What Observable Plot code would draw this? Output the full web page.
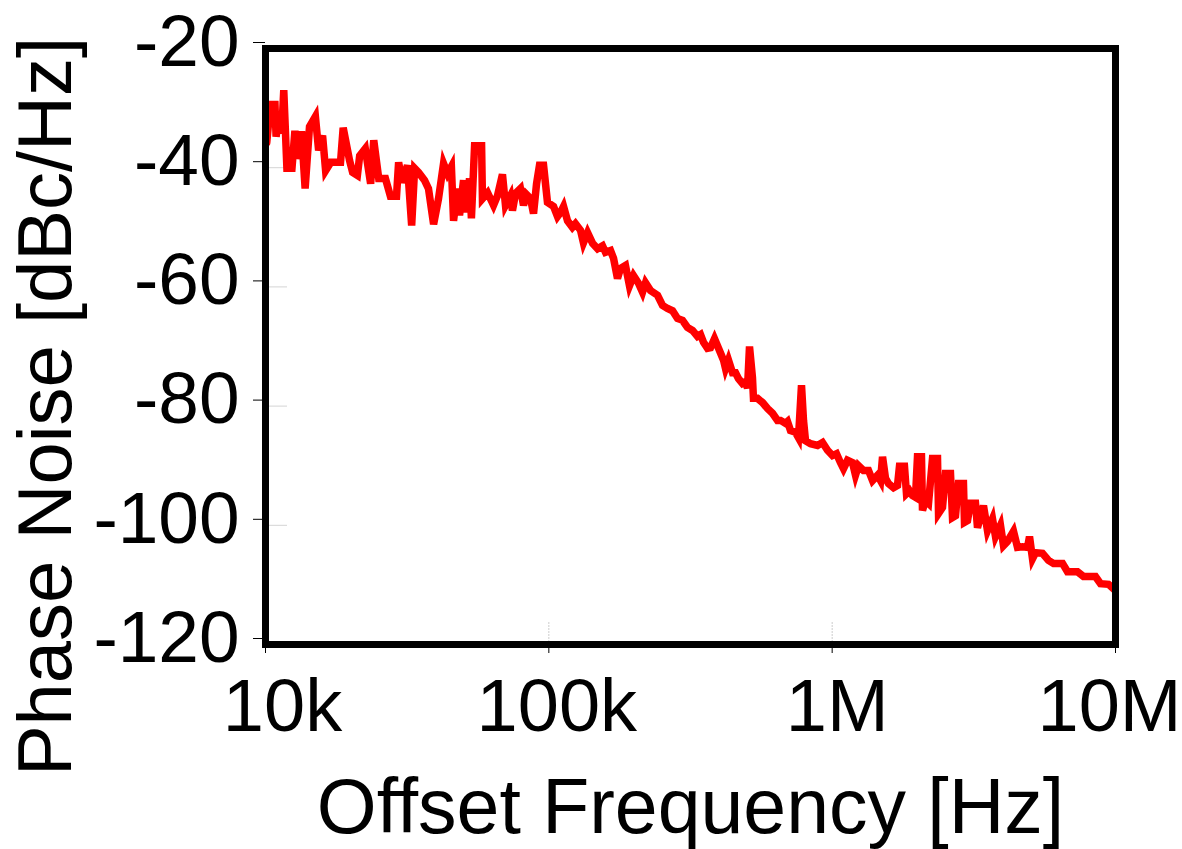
<!DOCTYPE html>
<html><head><meta charset="utf-8">
<script src="https://cdn.jsdelivr.net/npm/d3@7"></script>
<script src="https://cdn.jsdelivr.net/npm/@observablehq/plot@0.6"></script>
<style>body{margin:0;background:#fff}</style>
</head><body><div id="chart"></div>
<script>
// Offset frequency in kHz
const freqKHz = [
10.1,10.4,10.8,10.9,11.2,11.4,11.6,11.9,12.4,12.7,12.9,13.4,13.8,14.3,15.0,15.4,15.9,16.3,17.0,18.4,
18.8,19.8,20.3,21.1,21.5,22.5,23.5,24.1,25.1,26.5,27.6,29.0,29.5,30.4,31.7,32.8,33.6,34.7,36.4,37.6,
39.2,40.8,42.5,43.9,45.3,46.1,47.6,48.4,50.0,51.2,52.5,53.3,54.7,57.9,58.3,60.8,63.8,65.9,68.6,70.3,
73.2,74.4,76.3,79.4,81.4,83.4,86.2,88.3,90.5,92.7,95.8,98.9,103.9,107.3,110.0,112.7,116.4,121.1,124.2,129.4,
132.5,137.0,142.7,148.6,154.7,158.5,165.1,169.2,174.7,179.0,186.4,192.6,199.0,207.2,214.1,219.4,228.5,241.9,251.9,262.3,
273.2,284.5,296.3,308.6,321.4,334.7,343.0,351.5,363.1,372.0,384.3,397.1,413.6,420.3,430.6,444.9,455.9,467.1,482.2,494.5,
502.6,510.8,523.2,527.5,545.0,567.7,591.2,615.8,641.4,657.3,684.3,695.6,712.7,742.2,760.6,779.4,792.2,805.2,838.6,887.7,
924.5,962.8,1002.7,1035.8,1070.1,1096.4,1132.7,1179.6,1208.7,1238.6,1290.0,1343.5,1388.3,1445.9,1481.6,1505.8,1542.7,1580.7,1646.2,1700.6,
1728.1,1799.7,1829.2,1874.5,1920.5,1968.1,2000.4,2066.6,2083.5,2135.0,2188.0,2260.3,2354.1,2373.3,2451.5,2512.0,2616.0,2658.8,2723.9,2791.4,
2906.9,2930.6,3003.3,3077.5,3205.1,3257.8,3419.9,3533.6,3680.0,3770.7,3927.4,4024.3,4157.3,4365.3,4509.4,4696.0,4891.4,4971.5,5094.1,5218.4,
5524.6,5800.8,6043.3,6501.2,6768.9,7342.0,7710.4,8497.3,8852.6,9446.7,9918.8
];
// Phase noise in dBc/Hz
const phaseNoise = [
-35.8,-29.4,-29.4,-34.8,-30.7,-34.3,-27.0,-40.1,-40.1,-33.8,-38.5,-33.9,-43.5,-33.1,-31.4,-37.1,-34.6,-40.5,-39.1,-39.1,
-33.3,-38.8,-40.8,-41.3,-38.0,-36.8,-42.7,-35.4,-41.8,-41.8,-44.8,-44.8,-39.1,-42.5,-39.6,-49.7,-40.1,-40.8,-42.1,-43.5,
-49.5,-45.2,-39.3,-41.0,-39.8,-48.9,-43.5,-48.0,-42.1,-47.5,-41.8,-48.5,-36.3,-36.3,-45.2,-44.2,-46.3,-44.7,-41.1,-46.3,
-44.7,-47.2,-44.3,-43.5,-46.3,-44.5,-45.2,-47.7,-42.7,-39.6,-39.6,-45.8,-46.5,-48.2,-47.5,-46.5,-48.9,-50.0,-49.4,-50.5,
-52.6,-50.9,-52.7,-53.6,-53.1,-54.2,-53.9,-55.2,-58.6,-56.9,-56.4,-59.8,-58.1,-59.4,-60.9,-59.3,-60.6,-61.4,-63.1,-63.6,
-64.0,-65.3,-65.6,-66.8,-67.3,-68.3,-68.0,-69.3,-70.3,-70.2,-68.7,-70.3,-72.3,-73.7,-72.3,-74.4,-74.4,-75.4,-76.2,-75.9,
-77.0,-70.0,-75.2,-78.7,-78.7,-79.4,-80.4,-81.2,-82.4,-82.4,-82.9,-82.6,-84.1,-84.4,-85.3,-76.5,-82.4,-85.8,-86.3,-86.6,
-86.1,-87.4,-88.3,-88.0,-89.5,-90.5,-89.1,-89.5,-91.6,-90.0,-90.8,-90.8,-92.5,-91.6,-92.5,-88.5,-92.1,-93.0,-93.7,-93.3,
-90.1,-90.1,-94.7,-94.2,-95.0,-95.3,-88.5,-88.5,-97.5,-95.8,-96.3,-88.8,-88.8,-98.0,-97.0,-91.3,-91.3,-98.7,-98.4,-93.0,
-93.0,-99.5,-99.2,-96.3,-96.3,-100.4,-96.7,-100.9,-98.9,-101.9,-100.0,-103.4,-102.7,-101.0,-103.7,-103.6,-103.7,-101.9,-105.6,-104.6,
-104.7,-105.9,-106.4,-106.4,-107.8,-107.8,-108.6,-108.6,-109.8,-109.9,-110.8
];
const xTicks = [1e4, 1e5, 1e6, 1e7];
const xTickLabels = ["10k", "100k", "1M", "10M"];
const yTicks = [-20, -40, -60, -80, -100, -120];
const xTitle = "Offset Frequency [Hz]";
const yTitle = "Phase Noise [dBc/Hz]";

const data = freqKHz.map((f, i) => ({f: f * 1000, pn: phaseNoise[i]}));

const W = 1182, H = 849, mL = 265, mR = 67, mT = 48, mB = 205;
const innerW = W - mL - mR, innerH = H - mT - mB;
const fmtX = d => xTickLabels[xTicks.indexOf(d)];
const xLabelStyle = {tickSize: 0, tickPadding: 34, fontSize: 74, label: null, tickFormat: fmtX};

const chart = Plot.plot({
  width: W, height: H,
  marginLeft: mL, marginRight: mR, marginTop: mT, marginBottom: mB,
  style: {fontFamily: "'Liberation Sans', Arial, sans-serif", background: "#fff", color: "#000", overflow: "visible"},
  x: {type: "log", domain: [1e4, 1e7]},
  y: {domain: [-120, -20]},
  marks: [
    Plot.tickY(yTicks.slice(1, 5), {y: d => d, stroke: "#d4d4d4", strokeWidth: 1, insetRight: innerW - 22}),
    Plot.tickX(xTicks.slice(1, 3), {x: d => d, stroke: "#cccccc", strokeWidth: 1, strokeDasharray: "2,1", insetTop: innerH - 22}),
    Plot.line(data, {x: "f", y: "pn", stroke: "#ff0000", strokeWidth: 7.5, strokeLinejoin: "miter", strokeMiterlimit: 4}),
    Plot.frame({stroke: "#000", strokeWidth: 7}),
    Plot.axisY(yTicks, {tickSize: 12, tickPadding: 14, fontSize: 73, dy: -6, label: null, tickFormat: d => String(d)}),
    Plot.axisX(xTicks, {tickSize: 9, text: null, label: null}),
    Plot.axisX([xTicks[0]], {...xLabelStyle, dx: 17}),
    Plot.axisX([xTicks[1]], {...xLabelStyle, dx: 8}),
    Plot.axisX([xTicks[2]], {...xLabelStyle, dx: 5}),
    Plot.axisX([xTicks[3]], {...xLabelStyle, dx: -6}),
    Plot.text([xTitle], {frameAnchor: "bottom", dy: 134, lineAnchor: "top", textAnchor: "middle", fontSize: 77, fill: "#000"}),
    Plot.text([yTitle], {frameAnchor: "left", rotate: -90, dx: -248, dy: 60, lineAnchor: "top", textAnchor: "middle", fontSize: 76, fill: "#000"})
  ]
});
document.getElementById("chart").append(chart);
</script>
</body></html>
